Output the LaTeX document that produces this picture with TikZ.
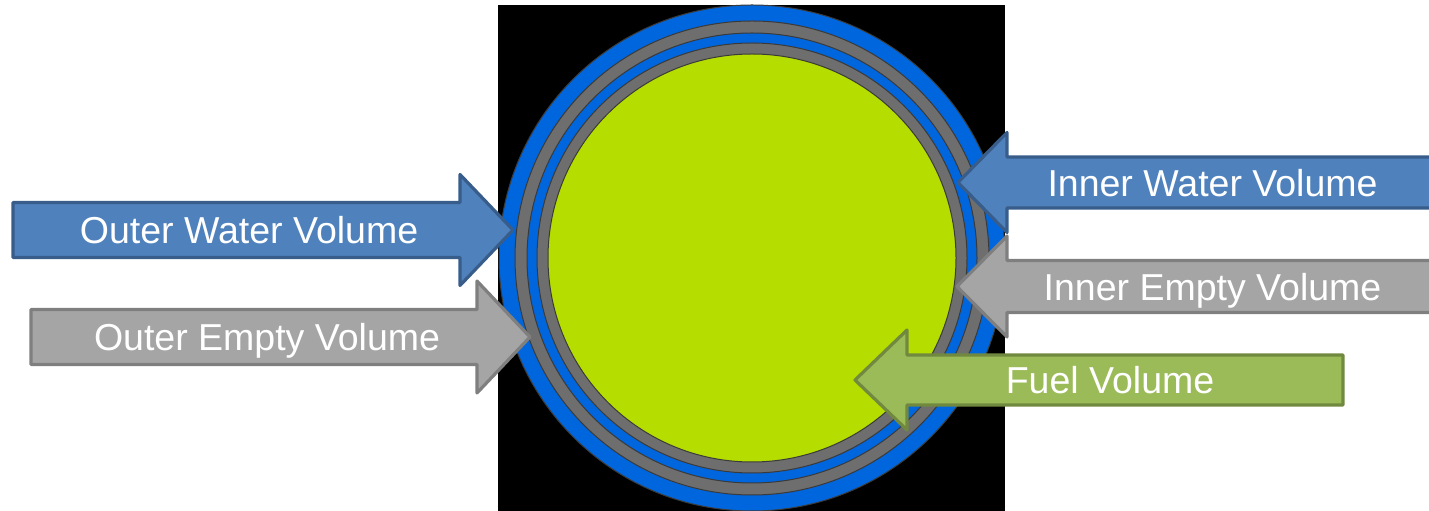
\documentclass[tikz,border=0pt]{standalone}
\usepackage{fontspec}
\setmainfont{Liberation Sans}
\usepackage{tikz}
\usetikzlibrary{positioning}
\definecolor{ringblue}  {HTML}{0066DD}
\definecolor{ringgray}  {HTML}{6E6E6E}
\definecolor{ringedge}  {HTML}{3A3A3A}
\definecolor{fuelgreen} {HTML}{B5DD00}
\definecolor{waterfill} {HTML}{4F81BD}
\definecolor{waterline} {HTML}{385D8A}
\definecolor{emptyfill} {HTML}{A5A5A5}
\definecolor{emptyline} {HTML}{7F7F7F}
\definecolor{fuelfill}  {HTML}{9BBB59}
\definecolor{fuelline}  {HTML}{71893F}
\tikzset{
  % --- rings
  ring/.style       = {draw=ringedge, line width=1pt},
  % --- block arrows
  blk/.style        = {line width=3.2pt, line join=round},
  waterarrow/.style = {blk, fill=waterfill, draw=waterline},
  emptyarrow/.style = {blk, fill=emptyfill, draw=emptyline},
  fuelarrow/.style  = {blk, fill=fuelfill, draw=fuelline},
  lbl/.style        = {text=white, inner sep=0pt, anchor=base,
                       font=\fontsize{37.5}{40}\selectfont},
}
\begin{document}
\begin{tikzpicture}[x=1pt,y=1pt]
  \useasboundingbox (0,0) rectangle (1429,511);
  \fill[black] (498,0) rectangle (1005,506);
  \coordinate (core) at (752,253);
  \foreach \r/\c in {253/ringblue, 237/ringgray, 225/ringblue, 215/ringgray, 204/fuelgreen}
    \draw[ring, fill=\c] (core) circle[radius=\r];
  % --- pointing right
  \draw[waterarrow] (13,253.5) -- (460,253.5) -- (460,225.5) -- (513,281)
    -- (460,336.5) -- (460,308.5) -- (13,308.5) -- cycle;
  \draw[emptyarrow] (31,146.5) -- (477,146.5) -- (477,118) -- (530,174)
    -- (477,230) -- (477,201.5) -- (31,201.5) -- cycle;
  % --- pointing left
  \draw[waterarrow] (1445,303) -- (1007,303) -- (1007,278.5) -- (958,328.5)
    -- (1007,378.5) -- (1007,354) -- (1445,354);
  \draw[emptyarrow] (1445,198.5) -- (1007,198.5) -- (1007,174) -- (957,224.5)
    -- (1007,275) -- (1007,250.5) -- (1445,250.5);
  \draw[fuelarrow] (1343,106) -- (907,106) -- (907,81) -- (855,131)
    -- (907,181) -- (907,156) -- (1343,156) -- cycle;
  % --- labels
  \node[lbl] (outerwater) at (249,267.4)   {Outer Water Volume};
  \node[lbl] (outerempty) at (267,160.4)   {Outer Empty Volume};
  \node[lbl] (innerwater) at (1212.5,314.9) {Inner Water Volume};
  \node[lbl] (innerempty) at (1212.5,210.9) {Inner Empty Volume};
  \node[lbl] (fuel)       at (1110,117.4)  {Fuel Volume};
\end{tikzpicture}
\end{document}
